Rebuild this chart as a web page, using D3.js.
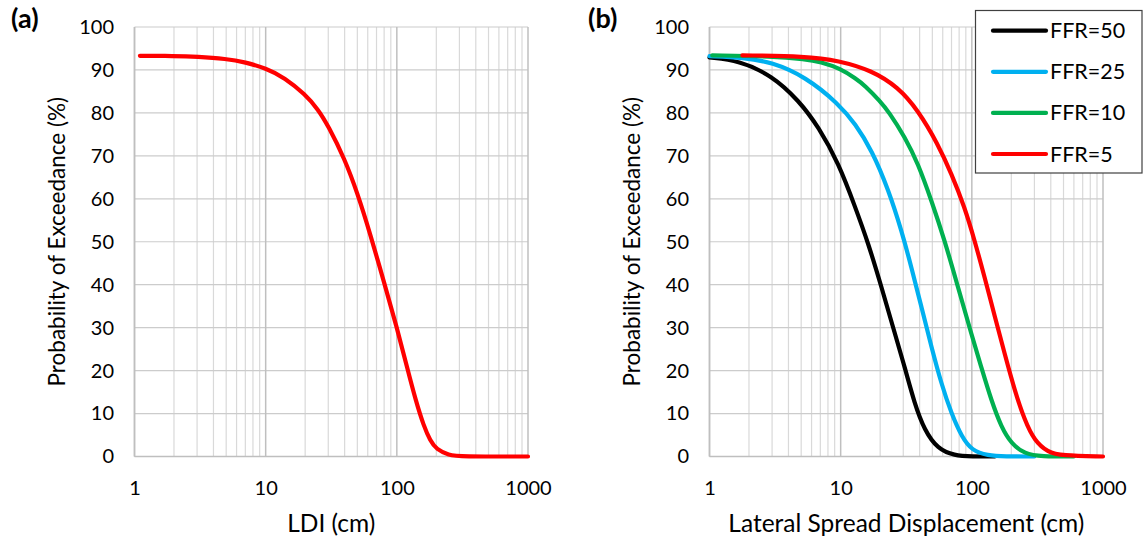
<!DOCTYPE html>
<html>
<head>
<meta charset="utf-8">
<script src="https://cdn.jsdelivr.net/npm/d3@7"></script>
<style>
  html, body { margin: 0; padding: 0; background: #ffffff; }
  svg { display: block; }
  text { font-family: "Lato", "Open Sans", "DejaVu Sans", sans-serif; fill: #000; }
</style>
</head>
<body>
<svg id="chart" width="1143" height="546"></svg>
<script>
// ---------- data ----------
const xTickValues = [1, 10, 100, 1000];
const yTickValues = [0, 10, 20, 30, 40, 50, 60, 70, 80, 90, 100];
const panelLabels = ["(a)", "(b)"];
const xTitles = ["LDI (cm)", "Lateral Spread Displacement (cm)"];
const yTitle = "Probability of Exceedance (%)";

// Panel (a): LDI
const ldiX = [1.1, 2, 3, 5, 7, 10, 14, 20, 25, 30, 40, 50, 63, 80, 100, 120, 140, 160, 180, 200, 250, 300, 1000];
const ldiY = [93.3, 93.25, 93.1, 92.6, 91.8, 90.4, 88.2, 84.3, 80.9, 77.0, 69.3, 61.4, 51.6, 40.5, 30.1, 20.6, 12.8, 7.2, 3.6, 1.7, 0.3, 0, 0];

// Panel (b): lateral spread displacement, one series per FFR
const seriesNames = ["FFR=50", "FFR=25", "FFR=10", "FFR=5"];
const seriesColors = ["#000000", "#00b0f0", "#00b050", "#ff0000"];
const ffr50X = [1, 1.67, 3.0, 4.79, 6.8, 9.66, 12.9, 16.3, 20.5, 25.9, 30.8, 36.6, 43.6, 54.8, 73.6, 100, 150];
const ffr50Y = [92.9, 92.2, 88.7, 82.9, 76.7, 68.2, 58.1, 49.5, 39.4, 28.6, 20.8, 12.3, 6.1, 1.8, 0.2, 0, 0];
const ffr25X = [1, 1.8, 3.0, 5.4, 9.66, 12.9, 17.3, 23.2, 29.1, 34.6, 41.3, 49.2, 58.6, 70, 84, 100, 132, 178, 300];
const ffr25Y = [93.2, 92.9, 91.8, 88.4, 82.1, 77.5, 71.3, 62.0, 52.6, 44.1, 34.8, 25.5, 16.9, 9.9, 4.5, 1.4, 0.2, 0, 0];
const ffr10X = [1.05, 3.0, 5.4, 7, 10, 13, 15.3, 20, 23.2, 30.9, 38.9, 49.2, 62.1, 78.5, 99, 118, 141, 168, 200, 253, 338, 600];
const ffr10Y = [93.4, 93.2, 92.5, 91.9, 90.3, 88.0, 86.4, 82.7, 80.3, 74.4, 68.2, 59.6, 50.3, 39.4, 28.6, 20.8, 13.0, 6.8, 3.0, 0.6, 0, 0];
const ffr5X = [1.78, 5.4, 9.66, 17.2, 27.4, 38.9, 55, 70, 88, 105, 125, 150, 178, 212, 253, 300, 380, 480, 1000];
const ffr5Y = [93.4, 93.2, 92.2, 89.9, 86.0, 80.6, 72.8, 65.8, 58.1, 50.3, 41.8, 32.5, 23.9, 15.4, 8.4, 3.7, 1.0, 0.2, 0];

// ---------- drawing ----------
const svg = d3.select("#chart");
const plotTop = 27, plotBottom = 456.5;
const panels = [
  { left: 134.5, right: 528, labelX: 11, yTitleX: 57, tickRight: 114 },
  { left: 709.5, right: 1103, labelX: 588, yTitleX: 632, tickRight: 689 }
];

function minorTicks() {
  const arr = [];
  for (let d = 1; d < 1000; d *= 10) for (let k = 2; k <= 9; k++) arr.push(d * k);
  return arr;
}

function drawPanel(p, idx, seriesList) {
  const x = d3.scaleLog().domain([1, 1000]).range([p.left, p.right]);
  const y = d3.scaleLinear().domain([0, 100]).range([plotBottom, plotTop]);
  const g = svg.append("g");

  g.selectAll(".minor").data(minorTicks()).enter().append("line")
    .attr("x1", d => x(d)).attr("x2", d => x(d))
    .attr("y1", plotTop).attr("y2", plotBottom)
    .attr("stroke", "#d9d9d9").attr("stroke-width", 1.2);
  g.selectAll(".hgrid").data(yTickValues).enter().append("line")
    .attr("x1", p.left).attr("x2", p.right)
    .attr("y1", d => y(d)).attr("y2", d => y(d))
    .attr("stroke", "#cccccc").attr("stroke-width", 1.2);
  g.selectAll(".major").data(xTickValues).enter().append("line")
    .attr("x1", d => x(d)).attr("x2", d => x(d))
    .attr("y1", plotTop).attr("y2", plotBottom)
    .attr("stroke", "#bfbfbf").attr("stroke-width", 1.5);
  g.append("line").attr("x1", p.left).attr("x2", p.right).attr("y1", plotBottom).attr("y2", plotBottom)
    .attr("stroke", "#bfbfbf").attr("stroke-width", 1.5);
  g.append("line").attr("x1", p.left).attr("x2", p.left).attr("y1", plotTop).attr("y2", plotBottom)
    .attr("stroke", "#bfbfbf").attr("stroke-width", 1.5);

  const yAxis = d3.axisLeft(y).tickValues(yTickValues).tickSize(0).tickPadding(0);
  const ya = g.append("g").attr("transform", `translate(${p.tickRight},0)`).call(yAxis);
  ya.select(".domain").remove();
  ya.attr("font-family", null).attr("font-size", null);
  ya.selectAll("text").style("font-size", "20px").attr("fill", "#000");

  const xAxis = d3.axisBottom(x).tickValues(xTickValues).tickFormat(d3.format("d")).tickSize(0).tickPadding(0);
  const xa = g.append("g").attr("transform", `translate(0,${488})`).call(xAxis);
  xa.select(".domain").remove();
  xa.attr("font-family", null).attr("font-size", null);
  xa.selectAll("text").style("font-size", "20px").attr("fill", "#000")
    .attr("dy", "0.35em").attr("y", 0);

  g.append("text").attr("x", (p.left + p.right) / 2).attr("y", 523).attr("dy", "0.35em")
    .attr("text-anchor", "middle").style("font-size", "24.5px").text(xTitles[idx]);
  g.append("text").attr("transform", `translate(${p.yTitleX},${(plotTop + plotBottom) / 2}) rotate(-90)`)
    .attr("dy", "0.35em").attr("text-anchor", "middle").style("font-size", "22.5px").text(yTitle);
  g.append("text").attr("x", p.labelX).attr("y", 28)
    .style("font-size", "27px").style("font-weight", "bold").text(panelLabels[idx]);

  const line = d3.line().x(d => x(d[0])).y(d => y(d[1])).curve(d3.curveBasis);
  seriesList.forEach(s => {
    g.append("path").datum(d3.zip(s.xs, s.ys))
      .attr("d", line).attr("fill", "none")
      .attr("stroke", s.color).attr("stroke-width", 4.2)
      .attr("stroke-linecap", "round").attr("stroke-linejoin", "round");
  });
}

drawPanel(panels[0], 0, [{ xs: ldiX, ys: ldiY, color: "#ff0000" }]);
const bSeries = [
  { xs: ffr50X, ys: ffr50Y },
  { xs: ffr25X, ys: ffr25Y },
  { xs: ffr10X, ys: ffr10Y },
  { xs: ffr5X, ys: ffr5Y }
].map((s, i) => ({ ...s, color: seriesColors[i], name: seriesNames[i] }));
drawPanel(panels[1], 1, bSeries);

const lg = svg.append("g");
lg.append("rect").attr("x", 975.5).attr("y", 10.5).attr("width", 166.5).attr("height", 162.5)
  .attr("fill", "#ffffff").attr("stroke", "#404040").attr("stroke-width", 1.2);
const rowY = d3.scalePoint().domain(seriesNames).range([30.7, 154]);
bSeries.forEach(s => {
  lg.append("line").attr("x1", 993).attr("x2", 1046)
    .attr("y1", rowY(s.name)).attr("y2", rowY(s.name))
    .attr("stroke", s.color).attr("stroke-width", 4.2).attr("stroke-linecap", "round");
  lg.append("text").attr("x", 1050).attr("y", rowY(s.name)).attr("dy", "0.35em")
    .style("font-size", "21.5px").text(s.name);
});
</script>
</body>
</html>
